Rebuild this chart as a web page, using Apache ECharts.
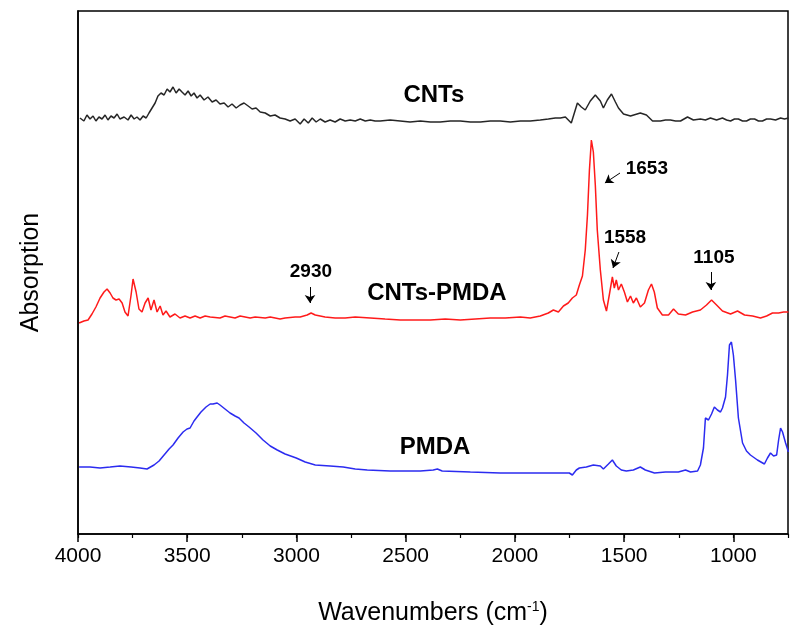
<!DOCTYPE html>
<html>
<head>
<meta charset="utf-8">
<script src="https://cdn.jsdelivr.net/npm/echarts@6/dist/echarts.min.js"></script>
<style>
  html, body { margin: 0; padding: 0; background: #fff; }
  #chart { width: 798px; height: 635px; }
</style>
</head>
<body>
<div id="chart"></div>
<script>
// wavenumber (cm-1), offset absorption (arbitrary units)
const cntsData = [
  [3991,416],[3973,413],[3959,419],[3945,415],[3931,418],[3918,413],[3904,417],[3890,415],
  [3876,419],[3863,414],[3849,418],[3835,416],[3821,420],[3808,415],[3789,417],[3771,414],
  [3757,419],[3743,415],[3730,417],[3716,414],[3702,418],[3688,416],[3675,421],[3661,426],
  [3647,431],[3634,438],[3620,441],[3606,439],[3592,445],[3579,442],[3565,447],[3551,441],
  [3537,445],[3524,442],[3510,439],[3496,443],[3482,438],[3469,441],[3455,436],[3441,439],
  [3423,434],[3405,437],[3386,432],[3368,434],[3350,430],[3331,431],[3313,427],[3295,430],
  [3276,426],[3258,429],[3240,431],[3221,428],[3203,425],[3185,426],[3166,422],[3143,421],
  [3120,418],[3098,419],[3075,416],[3052,415],[3029,413],[3006,415],[2983,410],[2965,415],
  [2946,411],[2928,416],[2910,412],[2891,415],[2869,412],[2846,414],[2823,412],[2800,415],
  [2777,413],[2754,414],[2731,413],[2708,415],[2685,413],[2662,414],[2640,413],[2617,413],
  [2571,414],[2525,413],[2480,412],[2433,413],[2387,412],[2342,412],[2296,413],[2250,413],
  [2204,412],[2158,412],[2113,413],[2067,413],[2021,412],[1975,413],[1930,413],[1884,414],
  [1847,415],[1815,416],[1792,416],[1769,417],[1742,411],[1714,431],[1696,427],[1678,424],
  [1655,433],[1632,439],[1609,433],[1595,426],[1577,434],[1558,440],[1540,432],[1526,426],
  [1503,420],[1471,418],[1426,421],[1398,419],[1370,413],[1334,413],[1311,414],[1288,414],
  [1265,413],[1242,413],[1210,417],[1183,414],[1151,415],[1128,414],[1105,416],[1077,414],
  [1050,416],[1031,414],[1013,413],[995,415],[977,415],[958,413],[940,413],[922,415],
  [903,415],[885,413],[867,413],[848,415],[830,415],[807,414],[784,416],[766,415],[748,416]
];
const cntsPmdaData = [
  [3995,211],[3973,213],[3954,214],[3936,220],[3918,227],[3899,236],[3881,242],[3867,245],
  [3853,241],[3840,236],[3826,234],[3812,235],[3798,231],[3785,222],[3771,218],[3757,239],
  [3748,255],[3734,242],[3721,225],[3707,222],[3693,231],[3679,236],[3666,224],[3652,234],
  [3638,222],[3624,228],[3611,219],[3597,223],[3579,217],[3556,220],[3533,216],[3510,218],
  [3487,216],[3464,218],[3441,216],[3418,218],[3395,217],[3350,216],[3327,218],[3281,216],
  [3258,218],[3212,216],[3189,217],[3143,216],[3120,217],[3075,215],[3052,216],[3006,217],
  [2983,217],[2951,219],[2933,221],[2914,219],[2869,217],[2823,216],[2777,216],[2731,217],
  [2662,216],[2594,215],[2525,214],[2456,214],[2387,214],[2319,215],[2250,214],[2181,215],
  [2113,216],[2044,216],[1975,217],[1930,216],[1884,218],[1847,221],[1824,224],[1801,222],
  [1778,228],[1756,231],[1737,236],[1719,239],[1705,249],[1691,258],[1678,284],[1668,319],
  [1659,364],[1650,394],[1641,382],[1632,349],[1623,304],[1609,264],[1595,234],[1581,223],
  [1568,239],[1554,257],[1545,246],[1536,254],[1526,244],[1513,250],[1499,242],[1485,232],
  [1471,238],[1458,231],[1444,236],[1426,227],[1407,231],[1389,244],[1375,250],[1362,242],
  [1348,226],[1325,219],[1297,219],[1274,225],[1252,220],[1219,219],[1187,222],[1151,224],
  [1123,229],[1100,234],[1077,229],[1050,223],[1013,220],[981,223],[949,219],[912,218],
  [876,216],[848,218],[821,221],[793,221],[770,222],[748,222]
];
const pmdaData = [
  [3995,67],[3945,67],[3899,66],[3853,67],[3808,68],[3757,67],[3716,66],[3684,65],
  [3652,69],[3629,73],[3606,79],[3583,85],[3565,89],[3542,96],[3519,102],[3501,105],
  [3487,106],[3469,113],[3455,117],[3437,122],[3414,127],[3395,130],[3382,130],[3363,131],
  [3350,129],[3327,125],[3304,121],[3281,118],[3263,116],[3240,111],[3217,107],[3185,101],
  [3153,94],[3120,88],[3088,84],[3052,80],[3001,76],[2960,72],[2914,69],[2846,68],
  [2786,67],[2731,65],[2676,64],[2571,63],[2433,63],[2374,64],[2355,65],[2333,63],
  [2204,62],[2067,61],[1920,61],[1792,61],[1751,61],[1737,59],[1719,64],[1705,66],
  [1673,67],[1641,69],[1609,68],[1595,65],[1572,70],[1554,74],[1536,68],[1513,64],
  [1490,63],[1458,64],[1426,67],[1403,64],[1361,61],[1311,62],[1252,62],[1219,64],
  [1196,62],[1164,63],[1151,69],[1137,86],[1128,116],[1114,114],[1100,120],[1087,127],
  [1073,124],[1059,122],[1050,126],[1036,137],[1027,159],[1018,189],[1009,192],[1000,179],
  [990,154],[977,116],[958,91],[940,83],[922,79],[890,74],[858,70],[844,76],
  [830,81],[816,78],[802,79],[793,94],[784,106],[775,102],[761,91],[748,82]
];

// curve names and where they sit
const curveLabels = [
  { text: 'CNTs', at: [2371, 439] },
  { text: 'CNTs-PMDA', at: [2357, 241] },
  { text: 'PMDA', at: [2366, 87] }
];
// peak annotations: label position, arrow start, arrow end
const peakLabels = [
  { text: '2930', at: [2934, 262], from: [2938, 247], to: [2938, 231] },
  { text: '1653', at: [1396, 365], from: [1519, 361], to: [1588, 351] },
  { text: '1558', at: [1496, 296], from: [1524, 282], to: [1551, 266] },
  { text: '1105', at: [1089, 276], from: [1103, 262], to: [1103, 244] }
];

const font = 'Liberation Sans, Arial, sans-serif';

const chart = echarts.init(document.getElementById('chart'));
chart.setOption({
  animation: false,
  backgroundColor: '#fff',
  grid: {
    left: 78, right: 10, top: 11, bottom: 101,
    show: true, borderColor: '#000', borderWidth: 1.5
  },
  xAxis: [
    {
      type: 'value', inverse: true, min: 750, max: 4000, splitNumber: 6,
      name: 'Wavenumbers (cm{sup|-1})',
      nameLocation: 'middle', nameGap: 66,
      nameTextStyle: {
        fontFamily: font, fontSize: 25, color: '#000',
        rich: { sup: { fontFamily: font, fontSize: 14, color: '#000', padding: [0, 0, 12, 0] } }
      },
      axisLine: { lineStyle: { color: '#000', width: 1.5 } },
      axisTick: { length: 8, lineStyle: { color: '#000', width: 1.5 } },
      axisLabel: {
        showMinLabel: false, fontFamily: font, fontSize: 21, color: '#000', margin: 12,
        formatter: v => String(v)
      },
      splitLine: { show: false }
    },
    {
      type: 'value', inverse: true, min: 750, max: 4000, interval: 250,
      position: 'bottom',
      axisLine: { show: false },
      axisTick: { length: 4, lineStyle: { color: '#000', width: 1.2 } },
      axisLabel: { show: false },
      splitLine: { show: false }
    }
  ],
  yAxis: {
    type: 'value', min: 0, max: 523,
    name: 'Absorption', nameLocation: 'middle', nameGap: 34, nameRotate: 90,
    nameTextStyle: { fontFamily: font, fontSize: 25, color: '#000' },
    axisLine: { show: true, lineStyle: { color: '#000', width: 1.5 } },
    axisTick: { show: false },
    axisLabel: { show: false },
    splitLine: { show: false }
  },
  series: [
    {
      name: 'CNTs', type: 'line', data: cntsData, showSymbol: false,
      lineStyle: { color: '#262626', width: 1.5 },
      markPoint: {
        symbolSize: 0,
        label: { show: true, position: 'inside', fontFamily: font, fontWeight: 'bold', fontSize: 24, color: '#000', formatter: p => p.name },
        data: curveLabels.map(l => ({ name: l.text, coord: l.at }))
      }
    },
    {
      name: 'CNTs-PMDA', type: 'line', data: cntsPmdaData, showSymbol: false,
      lineStyle: { color: '#ff1a1a', width: 1.5 },
      markPoint: {
        symbolSize: 0,
        label: { show: true, position: 'inside', fontFamily: font, fontWeight: 'bold', fontSize: 19, color: '#000', formatter: p => p.name },
        data: peakLabels.map(l => ({ name: l.text, coord: l.at }))
      },
      markLine: {
        silent: true,
        symbol: ['none', 'arrow'], symbolSize: 8,
        label: { show: false },
        lineStyle: { color: '#000', width: 1, type: 'solid' },
        data: peakLabels.map(l => [{ coord: l.from }, { coord: l.to }])
      }
    },
    {
      name: 'PMDA', type: 'line', data: pmdaData, showSymbol: false,
      lineStyle: { color: '#2b2bf0', width: 1.5 }
    }
  ]
});
</script>
</body>
</html>
